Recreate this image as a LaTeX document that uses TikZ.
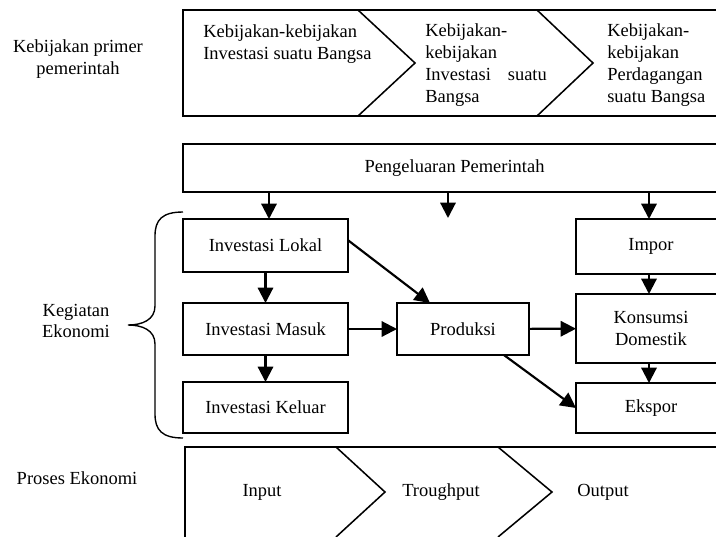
\documentclass[tikz,border=0pt]{standalone}
\usepackage{fontspec}
\setmainfont{Liberation Serif}
\usetikzlibrary{arrows.meta,calc}
\begin{document}
\begin{tikzpicture}[x=0.65pt,y=-0.65pt,
  every node/.style={font=\fontsize{12}{14}\selectfont, inner sep=0pt},
  tall/.style={font=\fontsize{12}{14.2}\selectfont},
  box/.style={draw, line width=1.3pt, outer sep=0pt, align=center},
  arr/.style={-{Triangle[length=10pt,width=10pt]}, line width=1.4pt},
  band/.style={line width=1pt},
  lbl/.style={align=center}]
\useasboundingbox (0,0) rectangle (716,536);
\clip (0,0) rectangle (716,536);

% top band
\draw[line width=1.3pt] (740,10) -- (183,10) -- (183,116) -- (740,116);
\draw[band] (358,10) -- (415,63) -- (358,116);
\draw[band] (537,10) -- (593,63) -- (537,116);
\node[lbl] (kp) at (78,59) {Kebijakan primer\\pemerintah};
\node[align=left, anchor=west] (c1) at (203,44) {Kebijakan-kebijakan\\Investasi suatu Bangsa};
\node[tall, align=left, anchor=west, text width=79pt] (c2) at (425,65) {Kebijakan-\\kebijakan\\Investasi\hfill suatu\\Bangsa};
\node[tall, align=left, anchor=west] (c3) at (607,65) {Kebijakan-\\kebijakan\\Perdagangan\\suatu Bangsa};

% government spending
\node[box, minimum width=353pt, minimum height=31.2pt] (pg) at (454.5,168) {Pengeluaran Pemerintah};

% left column
\node[box, minimum width=107.25pt, minimum height=34.45pt] (lok) at (265.5,245.5) {Investasi Lokal};
\node[box, minimum width=107.25pt, minimum height=33.8pt] (mas) at (265.5,329) {Investasi Masuk};
\node[box, minimum width=107.25pt, minimum height=33.15pt] (kel) at (265.5,407.5) {Investasi Keluar};
% middle
\node[box, minimum width=85.8pt, minimum height=33.8pt] (prod) at (463,329) {Produksi};
% right column
\node[box, minimum width=97.5pt, minimum height=35.75pt] (imp) at (651,246.5) {Impor};
\node[box, minimum width=97.5pt, minimum height=44.85pt] (kon) at (651,328.5) {Konsumsi\\Domestik};
\node[box, minimum width=97.5pt, minimum height=32.5pt] (eks) at (651,408) {Ekspor};

% arrows from government spending
\coordinate (xa) at (269,0);
\coordinate (xb) at (448,0);
\coordinate (xc) at (649,0);
\coordinate (mid) at (448,218);
\draw[arr] (pg.south -| xa) -- (lok.north -| xa);
\draw[arr] (pg.south -| xb) -- (mid);
\draw[arr] (pg.south -| xc) -- (imp.north -| xc);

% internal arrows
\draw[arr] (lok) -- (mas);
\draw[arr] (mas) -- (kel);
\draw[arr] (mas) -- (prod);
\draw[arr] ($(lok.north east)!0.4!(lok.south east)$) -- ($(prod.north west)!0.25!(prod.north east)$);
\draw[arr] (prod) -- (kon);
\draw[arr] (imp.south -| xc) -- (kon.north -| xc);
\draw[arr] (kon.south -| xc) -- (eks.north -| xc);
\draw[arr] ($(prod.south west)!0.81!(prod.south east)$) -- (eks.west);

% brace
\draw[line width=0.9pt] (183,212) .. controls (162,212) and (155,220) .. (155,236) -- (155,306)
  .. controls (155,320) and (142,325) .. (128,325)
  .. controls (142,325) and (155,330) .. (155,344) -- (155,414)
  .. controls (155,430) and (162,438) .. (183,438);
\node[lbl] (ke) at (76,321) {Kegiatan\\Ekonomi};

% process band
\draw[line width=1.3pt] (185,545) -- (185,447) -- (740,447);
\draw[band] (336,447) -- (385,492) -- (336,537);
\draw[band] (498,447) -- (552,492) -- (498,537);
\node (pe) at (77,478) {Proses Ekonomi};
\node (in) at (262,492) {Input};
\node (tr) at (441,492) {Troughput};
\node (out) at (603,492) {Output};
\end{tikzpicture}
\end{document}
